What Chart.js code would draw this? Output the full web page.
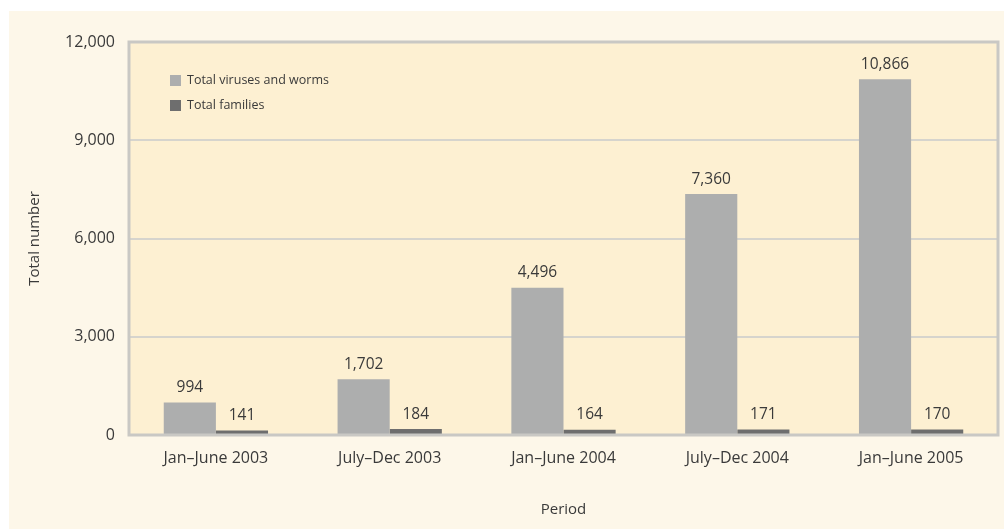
<!DOCTYPE html>
<html>
<head>
<meta charset="utf-8">
<script src="https://cdn.jsdelivr.net/npm/chart.js@4/dist/chart.umd.min.js"></script>
<style>
  html, body { margin: 0; padding: 0; background: #ffffff; }
  #wrap { width: 1004px; height: 529px; position: relative; }
</style>
</head>
<body>
<div id="wrap"><canvas id="virusChart" width="1004" height="529"></canvas></div>
<script>
// Chart data
const periods = ['Jan\u2013June 2003', 'July\u2013Dec 2003', 'Jan\u2013June 2004', 'July\u2013Dec 2004', 'Jan\u2013June 2005'];
const virusesAndWorms = [994, 1702, 4496, 7360, 10866];
const families = [141, 184, 164, 171, 170];
const seriesNames = ['Total viruses and worms', 'Total families'];
const yTicks = [0, 3000, 6000, 9000, 12000];

const textColor = '#3a3a3a';
const fontFamily = "'Open Sans', 'DejaVu Sans', sans-serif";

// Backgrounds, plot frame, legend and value labels
const decorPlugin = {
    id: 'decor',
    beforeDraw(chart) {
        const ctx = chart.ctx;
        const area = chart.chartArea;
        ctx.save();
        ctx.fillStyle = '#fdf7e9';
        ctx.fillRect(9, 11, chart.width - 9, chart.height - 11);
        ctx.fillStyle = '#fdf0d2';
        ctx.fillRect(area.left, area.top, area.right - area.left, area.bottom - area.top);
        ctx.restore();
    },
    afterDraw(chart) {
        const ctx = chart.ctx;
        const area = chart.chartArea;
        ctx.save();
        // frame
        ctx.strokeStyle = '#c9c8c4';
        ctx.lineWidth = 3;
        ctx.strokeRect(area.left, area.top, area.right - area.left, area.bottom - area.top);

        // legend inside plot
        const legendColors = ['#adaeae', '#6e6e6e'];
        ctx.font = '12.5px ' + fontFamily;
        ctx.textBaseline = 'middle';
        ctx.textAlign = 'left';
        seriesNames.forEach((name, i) => {
            const y = 80 + i * 25;
            ctx.fillStyle = legendColors[i];
            ctx.fillRect(170, y - 5, 11, 11);
            ctx.fillStyle = textColor;
            ctx.fillText(name, 187, y);
        });

        // value labels above bars
        ctx.font = '15.5px ' + fontFamily;
        ctx.textAlign = 'center';
        ctx.textBaseline = 'bottom';
        ctx.fillStyle = textColor;
        chart.data.datasets.forEach((ds, di) => {
            const meta = chart.getDatasetMeta(di);
            meta.data.forEach((bar, i) => {
                ctx.fillText(ds.data[i].toLocaleString('en-US'), bar.x, bar.y - 7);
            });
        });
        ctx.restore();
    }
};

new Chart(document.getElementById('virusChart'), {
    type: 'bar',
    data: {
        labels: periods,
        datasets: [{
            label: seriesNames[0],
            data: virusesAndWorms,
            backgroundColor: '#adaeae',
            categoryPercentage: 0.6,
            barPercentage: 1.0
        }, {
            label: seriesNames[1],
            data: families,
            backgroundColor: '#6e6e6e',
            categoryPercentage: 0.6,
            barPercentage: 1.0
        }]
    },
    options: {
        responsive: false,
        animation: false,
        layout: {
            padding: { left: 9, top: 42, right: 6, bottom: 0 }
        },
        plugins: {
            legend: { display: false },
            tooltip: { enabled: false }
        },
        scales: {
            x: {
                grid: { display: false, drawTicks: false },
                border: { display: false },
                ticks: {
                    color: textColor,
                    font: { family: fontFamily, size: 16 },
                    padding: 14
                },
                title: {
                    display: true,
                    text: 'Period',
                    color: textColor,
                    font: { family: fontFamily, size: 15 },
                    padding: { top: 0, bottom: 10 }
                },
                afterFit(scale) { scale.height = 94; }
            },
            y: {
                min: 0,
                max: 12000,
                afterBuildTicks(scale) {
                    scale.ticks = yTicks.map(v => ({ value: v }));
                },
                grid: {
                    color: '#d6d4cd',
                    lineWidth: 2,
                    drawTicks: false
                },
                border: { display: false },
                ticks: {
                    color: textColor,
                    font: { family: fontFamily, size: 16 },
                    padding: 14,
                    callback: v => v.toLocaleString('en-US')
                },
                title: {
                    display: true,
                    text: 'Total number',
                    color: textColor,
                    font: { family: fontFamily, size: 15 },
                    padding: { top: 17, bottom: 0 }
                },
                afterFit(scale) { scale.width = 120; }
            }
        }
    },
    plugins: [decorPlugin]
});
</script>
</body>
</html>
